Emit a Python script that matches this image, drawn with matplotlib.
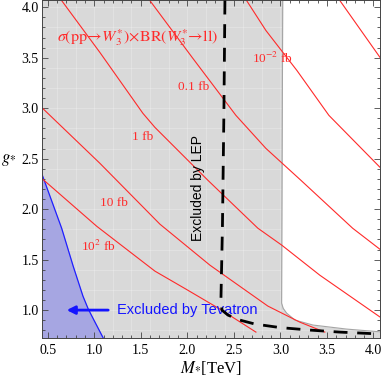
import matplotlib
matplotlib.use("Agg")
import matplotlib.pyplot as plt
import numpy as np

plt.rcParams.update({
    "font.family": "Liberation Serif",
    "mathtext.fontset": "stix",
    "font.size": 10,
})

RED = "#ff2a2a"
GREY = "#d9d9d9"

# contour lines of sigma x BR (M*, g*)
m_1e2 = [0.435, 1.026, 1.652, 1.985, 2.35, 2.737]
g_1e2 = [2.306, 1.831, 1.386, 1.208, 1.01, 0.782]

m_1e1 = [0.435, 1.061, 1.706, 2.243, 2.865, 3.208, 3.477]
g_1e1 = [3.008, 2.454, 1.851, 1.445, 1.040, 0.881, 0.782]

m_1 = [0.650, 1.061, 1.523, 1.652, 2.221, 2.758, 3.015, 3.423, 4.080]
g_1 = [4.066, 3.552, 2.949, 2.810, 2.286, 1.811, 1.643, 1.346, 0.925]

m_01 = [1.598, 2.060, 2.522, 2.844, 3.220, 3.776, 4.080]
g_01 = [4.066, 3.493, 2.929, 2.602, 2.286, 1.811, 1.595]

m_001 = [2.637, 2.844, 3.177, 3.521, 4.080]
g_001 = [4.066, 3.770, 3.374, 2.929, 2.405]

m_0001 = [3.639, 4.080]
g_0001 = [4.066, 3.490]

contour_labels = ["10$^{-2}$ fb", "0.1 fb", "1 fb", "10 fb", "10$^{2}$ fb"]
label_m = [2.91, 2.07, 1.52, 1.21, 1.04]
label_g = [3.49, 3.21, 2.71, 2.06, 1.63]

# excluded regions
g_grey = [4.10, 1.069, 1.017, 0.970, 0.901, 0.852, 0.812, 0.785, 0.70]
m_grey = [3.025, 3.013, 3.030, 3.067, 3.156, 3.350, 3.711, 4.068, 4.20]

g_tev = [2.45, 2.355, 1.811, 1.435, 1.138, 1.010, 0.881, 0.723, 0.70]
m_tev = [0.35, 0.435, 0.650, 0.774, 0.879, 0.936, 1.008, 1.097, 1.11]

m_lep = [2.404, 2.393, 2.377, 2.361, 2.372, 2.436, 2.565, 2.726, 2.995, 3.317, 3.640, 4.080]
g_lep = [4.066, 2.949, 1.811, 1.099, 1.000, 0.951, 0.901, 0.862, 0.827, 0.802, 0.782, 0.763]

XLIM = (0.435, 4.075)
YLIM = (0.723, 4.068)

fig = plt.figure(figsize=(3.82, 3.79), dpi=100)
ax = fig.add_axes([0.109, 0.108, 0.887, 0.891])

grey = ax.fill_betweenx(g_grey, XLIM[0] - 0.1, m_grey, color=GREY, lw=0, zorder=1)
ax.plot(m_grey, g_grey, color="#a5a5a5", lw=0.8, zorder=1.2)

# faint mesh seams inside the grey region
for m in np.arange(0.6, 3.2, 0.2):
    ln = ax.axvline(m, color="white", lw=0.5, alpha=0.3, zorder=1.1)
    ln.set_clip_path(grey.get_paths()[0], ax.transData)
for g in np.arange(0.8, 4.1, 0.2):
    ln = ax.axhline(g, color="white", lw=0.5, alpha=0.3, zorder=1.1)
    ln.set_clip_path(grey.get_paths()[0], ax.transData)

ax.fill_betweenx(g_tev, XLIM[0] - 0.1, m_tev, color="#a6a6e2", lw=0, zorder=1.3)
ax.plot(m_tev, g_tev, color="#1f1fff", lw=0.9, zorder=1.4)

for m, g in [(m_1e2, g_1e2), (m_1e1, g_1e1), (m_1, g_1), (m_01, g_01),
             (m_001, g_001), (m_0001, g_0001)]:
    ax.plot(m, g, color=RED, lw=0.8, zorder=2)

for txt, m, g in zip(contour_labels, label_m, label_g):
    ax.text(m, g, txt, color=RED, fontsize=9.5, ha="center", va="center", zorder=3)

ax.text(0.603, 3.70,
        r"$\sigma(\mathrm{pp}\!\rightarrow\! W_3^{*})\!\times\!\mathrm{BR}(W_3^{*}\!\rightarrow\!\mathrm{ll})$",
        color=RED, fontsize=11.5, ha="left", va="center", zorder=3)

ax.plot(m_lep, g_lep, color="black", lw=2, dashes=(5, 3.5), zorder=4)
ax.text(2.114, 2.207, "Excluded by LEP", rotation=90, ha="center", va="center",
        fontsize=10, family="Liberation Sans", zorder=3)

ax.text(1.24, 1.0, "Excluded by Tevatron", color="#1414ff", ha="left", va="center",
        fontsize=10.5, family="Liberation Sans", zorder=3)
ax.annotate("", xy=(0.704, 1.0), xytext=(1.15, 1.0),
            arrowprops=dict(arrowstyle="-|>", color="#1414ff", lw=2,
                            mutation_scale=12, shrinkA=0, shrinkB=0), zorder=3)

ax.set_xlim(*XLIM)
ax.set_ylim(*YLIM)
ax.set_xticks(np.arange(0.5, 4.01, 0.5))
ax.set_yticks(np.arange(1.0, 4.01, 0.5))
ax.set_xticks(np.arange(0.5, 4.07, 0.1), minor=True)
ax.set_yticks(np.arange(0.8, 4.07, 0.1), minor=True)
ax.xaxis.set_major_formatter(matplotlib.ticker.FormatStrFormatter("%.1f"))
ax.yaxis.set_major_formatter(matplotlib.ticker.FormatStrFormatter("%.1f"))
ax.tick_params(which="both", direction="in", top=True, right=True,
               labelsize=10, width=0.6, color="#444444")
ax.tick_params(which="major", length=4.5)
ax.tick_params(which="minor", length=2.5)
ax.tick_params(axis="x", pad=4)
ax.tick_params(axis="y", pad=2)
for s in ax.spines.values():
    s.set_color("#444444")
    s.set_linewidth(0.7)

ax.set_xlabel(r"$M_{*}$[TeV]", fontsize=12, labelpad=2)
fig.text(1 / 382, 1 - 160 / 379, r"$g_{*}$", fontsize=12, ha="left", va="center")

fig.savefig("out.png", dpi=100)
